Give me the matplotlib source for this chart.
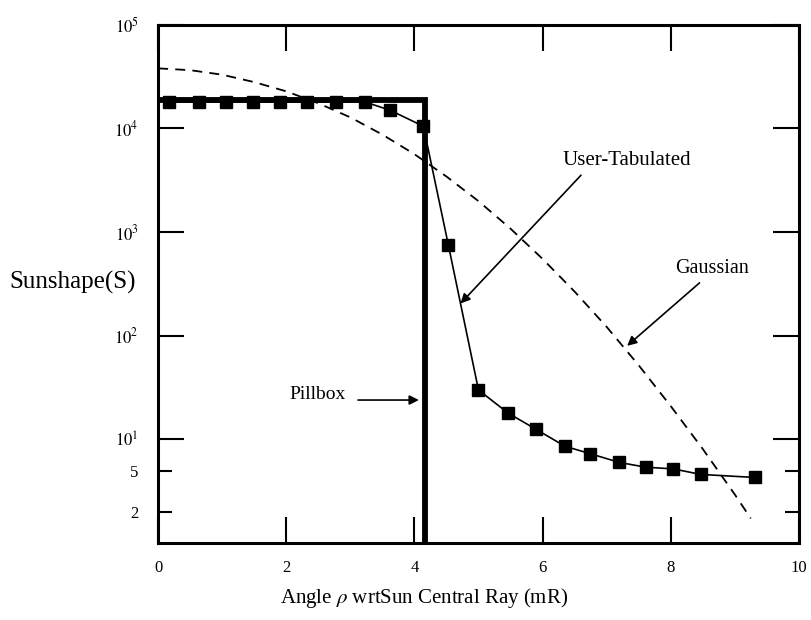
import numpy as np
import matplotlib
matplotlib.use("Agg")
import matplotlib.pyplot as plt

plt.rcParams['font.family'] = ['Liberation Serif', 'DejaVu Serif']
plt.rcParams['mathtext.fontset'] = 'stix'

# User-tabulated sunshape (squares)
user_x = [0.17, 0.64, 1.06, 1.48, 1.90, 2.32, 2.77, 3.23, 3.62, 4.14, 4.53,
          5.00, 5.46, 5.90, 6.35, 6.74, 7.20, 7.61, 8.04, 8.47, 9.31]
user_y = [1.8e4, 1.8e4, 1.8e4, 1.8e4, 1.8e4, 1.8e4, 1.8e4, 1.8e4, 1.5e4, 1.05e4, 750,
          30, 18, 12.5, 8.6, 7.3, 6.0, 5.4, 5.2, 4.6, 4.3]

# Gaussian sunshape (dashed)
gauss_x = [0.0, 0.5, 1.0, 1.5, 2.0, 2.5, 3.0, 3.5, 4.0, 4.5, 5.0, 5.5,
           6.0, 6.5, 7.0, 7.5, 8.0, 8.5, 9.0, 9.25]
gauss_y = [38000, 36500, 33000, 28000, 22800, 17500, 12800, 8730, 5650, 3440, 1990, 1080,
           552, 267, 122, 52, 21, 8.1, 2.95, 1.73]

# Pillbox sunshape
pill_x = [0.0, 4.17, 4.17]
pill_y = [1.9e4, 1.9e4, 1.0]

xticks = [0, 2, 4, 6, 8, 10]
ymajor = [1e1, 1e2, 1e3, 1e4, 1e5]
ymajor_labels = [r'$10^1$', r'$10^2$', r'$10^3$', r'$10^4$', r'$10^5$']
yminor = [2, 5]
yminor_labels = ['2', '5']

fig = plt.figure(figsize=(8.11, 6.2), dpi=100)
ax = fig.add_axes([0.195, 0.124, 0.790, 0.836])

ax.plot(pill_x, pill_y, color='black', lw=4.2, solid_joinstyle='miter')
ax.plot(gauss_x, gauss_y, color='black', lw=1.3, dashes=(5.5, 4))
ax.plot(user_x, user_y, color='black', lw=1.2, marker='s', markersize=9,
        markerfacecolor='black', markeredgecolor='black')

ax.set_yscale('log')
ax.set_xlim(0, 10)
ax.set_ylim(1, 1e5)

ax.set_xticks(xticks)
ax.set_xticklabels([str(t) for t in xticks])
ax.set_yticks(ymajor)
ax.set_yticklabels(ymajor_labels)
ax.set_yticks(yminor, minor=True)
ax.set_yticklabels(yminor_labels, minor=True)

ax.tick_params(which='major', direction='in', length=19, width=1.5,
               top=True, right=True, labelsize=12, pad=12)
ax.tick_params(which='minor', direction='in', length=10, width=1.5,
               top=True, right=True, labelsize=12, pad=12)
ax.tick_params(axis='y', which='both', pad=14)
for sp in ax.spines.values():
    sp.set_linewidth(2.2)

ax.set_xlabel(r'Angle $\rho$ wrtSun Central Ray (mR)', fontsize=15, va='center')
ax.xaxis.set_label_coords(0.415, -0.106)
ax.set_ylabel('Sunshape(S)', fontsize=18, rotation=0, ha='center', va='center')
ax.yaxis.set_label_coords(-0.133, 0.502)

arrow = dict(arrowstyle='-|>', color='black', lw=1.2, mutation_scale=14,
             shrinkA=0, shrinkB=0)
ax.annotate('', xy=(4.72, 205), xytext=(6.6, 3540), arrowprops=arrow)
ax.text(7.32, 4900, 'User-Tabulated', fontsize=15, ha='center', va='center')
ax.annotate('', xy=(7.32, 80), xytext=(8.45, 324), arrowprops=arrow)
ax.text(8.64, 450, 'Gaussian', fontsize=14.5, ha='center', va='center')
ax.annotate('', xy=(4.07, 24), xytext=(3.12, 24), arrowprops=arrow)
ax.text(2.48, 27, 'Pillbox', fontsize=14, ha='center', va='center')

fig.savefig('out.png', dpi=100)
